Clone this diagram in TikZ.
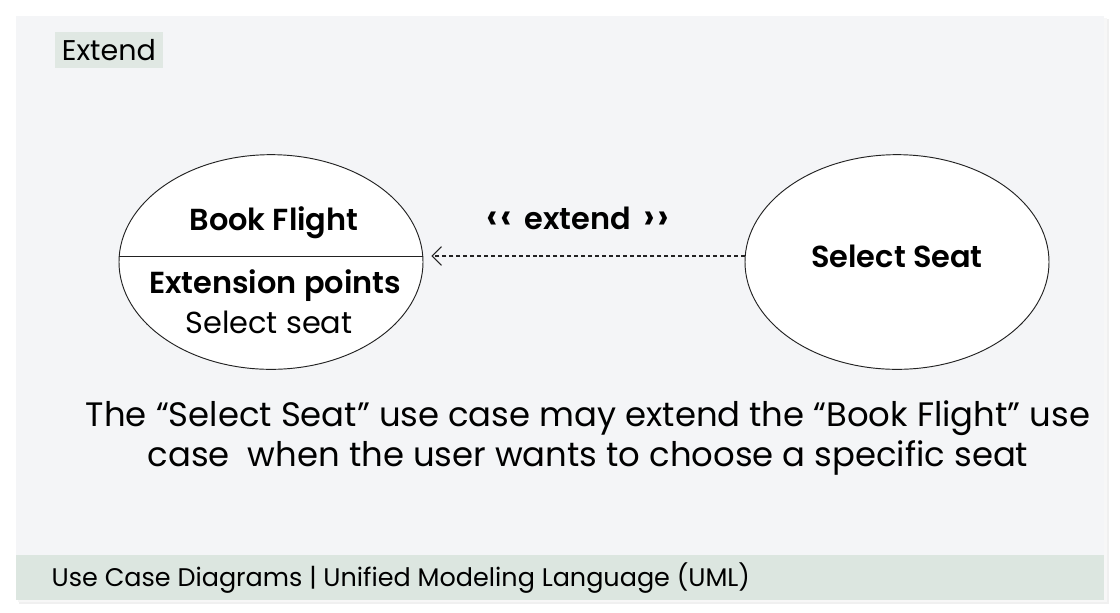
\documentclass[tikz,border=0pt]{standalone}
\usepackage{fontspec}
\setmainfont{Poppins}[BoldFont={Poppins SemiBold}]
\usepackage{xcolor}
\usepackage{tikz}
\usetikzlibrary{arrows.meta,shapes.geometric,positioning}

\definecolor{panelgray}{HTML}{F4F5F7}
\definecolor{bargreen}{HTML}{DCE6E0}
\definecolor{tagcolor}{HTML}{E0E8E3}
\definecolor{inkgray}{HTML}{222222}

\newcommand{\chev}[1]{{\fontsize{28}{26}\selectfont #1}}

\tikzset{
  usecase/.style={ellipse, draw=inkgray, line width=0.7pt, fill=white,
    minimum width=228pt, minimum height=161pt, inner sep=0pt},
  extendline/.style={draw=inkgray, line width=0.8pt, dash pattern={on 3pt off 2.2pt},
    -{Straight Barb[length=7pt,width=14pt,line width=0.8pt]}},
  casetext/.style={font=\fontsize{22.8}{26}\selectfont},
  casebold/.style={font=\bfseries\fontsize{22.8}{26}\selectfont},
  bodytext/.style={align=center, font=\fontsize{25.4}{30}\selectfont},
}

\begin{document}
\begin{tikzpicture}[x=0.75pt,y=0.75pt,yscale=-1,xscale=1]
      \useasboundingbox (0,0) rectangle (1120,612);
      \fill [white] (0,0) rectangle (1120,612);

      % Panel with a soft shadow
      \fill [black!6] (19,19) rectangle (1109,604);
      \fill [black!3] (18,18) rectangle (1107,602);
      \fill [panelgray] (16,16) rectangle (1104,600);
      % Bottom bar
      \fill [bargreen] (16,555) rectangle (1104,600);

      % Title tag
      \node [fill=tagcolor, inner xsep=5pt, inner ysep=0pt, minimum height=27pt, anchor=west,
        font=\fontsize{21.4}{24}\selectfont] (tag) at (55,50) {Extend};

      % Use cases
      \node [usecase] (book) at (271,262) {};
      \node [usecase] (sel) at (897,262) {};
      \draw [inkgray, line width=0.7pt] (book.west |- 0,256) -- (book.east |- 0,256);

      % Labels in the use cases
      \node [casebold] (booktitle) at (274,223) {Book Flight};
      \node [casebold] (extpts) at (275,286) {Extension points};
      \node [casetext] (extname) at (269,322) {Select seat};
      \node [casebold] (seltitle) at (897,256) {Select Seat};

      % Extend relation
      \draw [extendline] ([yshift=-4.5pt]sel.west) -- ([yshift=-4.5pt,xshift=6pt]book.east);
      \node [casebold] (extlabel) at (578,218) {\chev{‹\kern1.5pt‹}\ \,extend\ \,\chev{›\kern1.5pt›}};

      % Description
      \node [bodytext] (desc) at (588,438) {The “Select Seat” use case may extend the “Book Flight” use\\case \ when the user wants to choose a specific seat};

      % Footer
      \node [anchor=west, font=\fontsize{19.1}{22}\selectfont] (footer) at (47,578) {Use Case Diagrams | Unified Modeling Language (UML)};
    \end{tikzpicture}
\end{document}
